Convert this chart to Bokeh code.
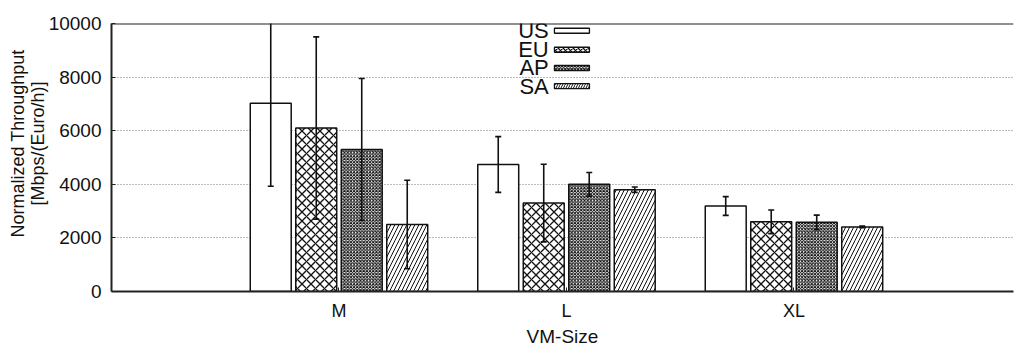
from bokeh.plotting import figure
from bokeh.models import FixedTicker, Span, Range1d, ColumnDataSource, Title
from bokeh.embed import file_html
from bokeh.resources import INLINE
from bokeh.core.properties import value

categories = ["M", "L", "XL"]
cat_pos = [1, 2, 3]
series = ["US", "EU", "AP", "SA"]
us = [7020, 4740, 3190]
us_err = [3090, 1040, 350]
eu = [6100, 3300, 2600]
eu_err = [3400, 1450, 440]
ap = [5300, 4000, 2580]
ap_err = [2650, 440, 270]
sa = [2500, 3800, 2410]
sa_err = [1650, 100, 30]
y_ticks = [0, 2000, 4000, 6000, 8000, 10000]
y_label_lines = ["Normalized Throughput", "[Mbps/(Euro/h)]"]

FONT = "Liberation Sans"
YMAX = 10000

p = figure(width=1014, height=349, output_backend="svg", toolbar_location=None,
           x_range=Range1d(0, 3.965), y_range=Range1d(0, YMAX),
           min_border_left=111, min_border_right=1, min_border_top=23, min_border_bottom=58)
p.outline_line_color = None
p.background_fill_color = "white"
p.border_fill_color = "white"

offsets = [-0.3, -0.1, 0.1, 0.3]
styles = [
    dict(hatch_pattern=" ", hatch_scale=8),
    dict(hatch_pattern="diagonal_cross", hatch_scale=9, hatch_weight=1.3),
    dict(hatch_pattern="diagonal_cross", hatch_scale=3.2, hatch_weight=1.0),
    dict(hatch_pattern="right_diagonal_line", hatch_scale=8, hatch_weight=1.0),
]
vals = [us, eu, ap, sa]
errs = [us_err, eu_err, ap_err, sa_err]
BAR_W = 0.18

for name, off, st, v, e in zip(series, offsets, styles, vals, errs):
    xs = [c + off for c in cat_pos]
    src = ColumnDataSource(dict(x=xs, top=v,
                                lo=[a - b for a, b in zip(v, e)],
                                hi=[a + b for a, b in zip(v, e)]))
    kw = dict(x="x", top="top", bottom=0, width=BAR_W, source=src,
              fill_color="white", line_color="#111111", line_width=1.5)
    if st["hatch_pattern"].strip():
        kw.update(hatch_color="#111111", **st)
    p.vbar(**kw)
    p.segment(x0="x", x1="x", y0="lo", y1="hi", source=src, line_color="#111111", line_width=1.6)
    p.scatter(x="x", y="lo", source=src, marker="dash", size=6, line_color="#111111", line_width=1.6)
    p.scatter(x="x", y="hi", source=src, marker="dash", size=6, line_color="#111111", line_width=1.6)

# legend (text right-aligned, swatch on the right)
leg_y = [9730, 9020, 8340, 7660]
leg_text_x = 1.922
leg_sw_x = 2.024
for name, st, yy in zip(series, styles, leg_y):
    p.text(x=[leg_text_x], y=[yy], text=[name], text_align="right", text_baseline="middle",
           text_font=value(FONT), text_font_size="22px", text_color="#111111")
    kw = dict(x=[leg_sw_x], y=[yy], width=35, height=5, width_units="screen", height_units="screen",
              fill_color="white", line_color="#111111", line_width=1.3)
    if st["hatch_pattern"].strip():
        kw.update(hatch_color="#111111", hatch_pattern=st["hatch_pattern"],
                  hatch_scale=min(st["hatch_scale"], 5), hatch_weight=st.get("hatch_weight", 1))
    p.rect(**kw)

p.add_layout(Span(location=YMAX, dimension="width", line_color="#222222", line_width=2))

# y-axis title: two rotated lines as side titles (inner line first)
title_offsets = [86, 54]
for i, (txt, off) in enumerate(zip(reversed(y_label_lines), title_offsets)):
    p.add_layout(Title(text=txt, align="left", offset=off, standoff=(-4 if i == 0 else 0),
                       text_font=FONT, text_font_size="18px", text_font_style="normal",
                       text_color="#111111"), "left")

# axes
p.xaxis.ticker = FixedTicker(ticks=cat_pos)
p.xaxis.major_label_overrides = {c: l for c, l in zip(cat_pos, categories)}
p.xaxis.minor_tick_line_color = None
p.xaxis.major_tick_in = 4
p.xaxis.major_tick_out = 0
p.xaxis.axis_label = "VM-Size"
p.yaxis.ticker = FixedTicker(ticks=y_ticks)
p.yaxis.minor_tick_line_color = None
p.yaxis.major_tick_in = 4
p.yaxis.major_tick_out = 0

for ax in (p.xaxis[0], p.yaxis[0]):
    ax.axis_line_color = "#222222"
    ax.axis_line_width = 2
    ax.major_tick_line_color = "#222222"
    ax.major_label_text_font = FONT
    ax.major_label_text_color = "#111111"
    ax.axis_label_text_font = FONT
    ax.axis_label_text_font_style = "normal"
    ax.axis_label_text_color = "#111111"

p.xaxis.major_label_text_font_size = "18px"
p.yaxis.major_label_text_font_size = "19px"
p.xaxis.axis_label_text_font_size = "19px"
p.xaxis.major_label_standoff = 9
p.xaxis.axis_label_standoff = 2
p.yaxis.major_label_standoff = 10

p.xgrid.grid_line_color = None
p.ygrid.grid_line_color = "#777777"
p.ygrid.grid_line_dash = "1 2"
p.ygrid.grid_line_width = 1

open("out.html", "w").write(file_html(p, INLINE))
